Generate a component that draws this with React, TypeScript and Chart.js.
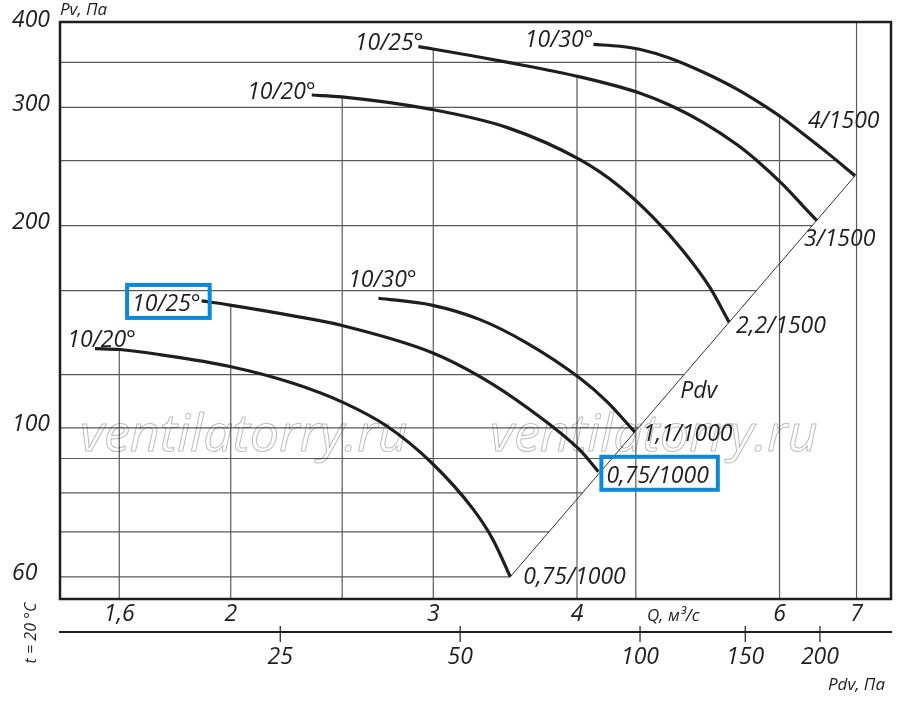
import { useEffect, useRef } from "react"
import { Chart, registerables } from "chart.js"

Chart.register(...registerables)

// Q, m3/s and Pv, Pa (lower group = 1000 rpm, upper = 1500 rpm)
const q20Low = [1.524, 1.601, 1.736, 1.997, 2.266, 2.504, 2.733, 2.99, 3.25, 3.38, 3.5]
const p20Low = [131.2, 130.8, 128.5, 123.4, 116.5, 109.1, 100.6, 88.7, 75.6, 68.2, 60]
const q25Low = [1.887, 1.997, 2.266, 2.504, 2.99, 3.294, 3.619, 4.024, 4.175]
const p25Low = [154.5, 152.3, 146.8, 141.9, 129.5, 119.2, 107.2, 92.6, 86]
const q30Low = [2.688, 2.99, 3.294, 3.619, 4.024, 4.245, 4.49]
const p30Low = [155.9, 152.3, 144.9, 133.7, 118.5, 109.5, 98.6]
const q20High = [2.352, 2.497, 2.99, 3.475, 4.024, 4.36, 4.661, 4.949, 5.222, 5.424]
const p20High = [313, 311, 297.9, 280.1, 250.7, 228.4, 205.6, 183.2, 161.6, 143.6]
const q25High = [2.912, 2.99, 3.475, 4.024, 4.533, 4.819, 5.152, 5.509, 5.733, 6.035, 6.293, 6.466]
const p25High = [369.4, 366.8, 350.3, 333.1, 315.2, 302.2, 284.8, 264.1, 250, 230.5, 213.7, 203.5]
const q30High = [4.134, 4.36, 4.533, 4.819, 5.152, 5.509, 5.849, 6.035, 6.293, 6.595, 6.98]
const p30High = [372.2, 369.9, 366.2, 355.1, 338.4, 319.4, 300, 289.2, 273.8, 257.1, 237.3]
// dynamic pressure line through the curve ends
const qPdv = [3.5, 6.98]
const pPdv = [60, 237.3]
const pdvLabelAt = 114

const curveNames = ["10/20°", "10/25°", "10/30°", "10/20°", "10/25°", "10/30°"]
const motorLabels = ["0,75/1000", "0,75/1000", "1,1/1000", "2,2/1500", "3/1500", "4/1500"]

const gridQ = [1.6, 2, 2.5, 3, 4, 4.5, 6, 7]
const gridP = [60, 70, 80, 90, 100, 120, 160, 200, 250, 300, 350]
const qTicks = [1.6, 2, 3, 4, 6, 7]
const pTicks = [60, 100, 200, 300, 400]
const pdvTicks = [25, 50, 100, 150, 200]

// label placement (px offsets from the curve start / end, baseline)
const namePlace = [
  { align: "right", dx: 41, dy: -2, boxed: false },
  { align: "right", dx: -1, dy: 10, boxed: true },
  { align: "center", dx: 4, dy: -11, boxed: false },
  { align: "right", dx: 4, dy: 4, boxed: false },
  { align: "right", dx: 5, dy: 3, boxed: false },
  { align: "right", dx: 0, dy: 3, boxed: false },
]
const endPlace = [
  { dx: 13, dy: 7, boxed: false },
  { dx: 8, dy: 11, boxed: true },
  { dx: 8, dy: 9, boxed: false },
  { dx: 7, dy: 11, boxed: false },
  { dx: -13, dy: 25, boxed: false },
  { dx: -47, dy: -48, boxed: false },
]

const FONT = "'Open Sans', 'DejaVu Sans', sans-serif"
const INK = "#1e1e1e"
const BLUE = "#0b88d8"

const curves = [
  [q20Low, p20Low],
  [q25Low, p25Low],
  [q30Low, p30Low],
  [q20High, p20High],
  [q25High, p25High],
  [q30High, p30High],
]

type Pt = [number, number]

function pixelLines(chart: Chart): Pt[][] {
  const { x, y } = chart.scales
  return chart.data.datasets.map((ds) =>
    (ds.data as { x: number; y: number }[]).map((p) => [x.getPixelForValue(p.x), y.getPixelForValue(p.y)] as Pt)
  )
}

function italic(ctx: CanvasRenderingContext2D, size: number) {
  ctx.font = `italic ${size}px ${FONT}`
}

function drawBox(ctx: CanvasRenderingContext2D, left: number, width: number, baseline: number) {
  ctx.save()
  ctx.strokeStyle = BLUE
  ctx.lineWidth = 4
  ctx.strokeRect(left - 5, baseline - 26, width + 14, 33)
  ctx.restore()
}

const fanPlugin = {
  id: "fanChart",
  beforeDatasetsDraw(chart: Chart) {
    const { ctx, chartArea: a, scales } = chart
    const lines = pixelLines(chart)
    ctx.save()
    ctx.strokeStyle = "#5a5a5a"
    ctx.lineWidth = 1.2
    ctx.beginPath()
    // vertical lines start at the highest curve they meet
    for (const q of gridQ) {
      const px = scales.x.getPixelForValue(q)
      let top = Infinity
      for (const pts of lines) {
        for (let k = 0; k < pts.length - 1; k++) {
          const [x1, y1] = pts[k]
          const [x2, y2] = pts[k + 1]
          if (x1 !== x2 && (px - x1) * (px - x2) <= 0) {
            const yy = y1 + ((y2 - y1) * (px - x1)) / (x2 - x1)
            if (yy < top) top = yy
          }
        }
      }
      if (top === Infinity) top = a.top
      ctx.moveTo(px, top)
      ctx.lineTo(px, a.bottom)
    }
    // horizontal lines stop at the rightmost curve or the Pdv line
    for (const p of gridP) {
      const py = scales.y.getPixelForValue(p)
      let right = -Infinity
      for (const pts of lines) {
        for (let k = 0; k < pts.length - 1; k++) {
          const [x1, y1] = pts[k]
          const [x2, y2] = pts[k + 1]
          if (y1 !== y2 && (py - y1) * (py - y2) <= 0) {
            const xx = x1 + ((x2 - x1) * (py - y1)) / (y2 - y1)
            if (xx > right) right = xx
          }
        }
      }
      if (right === -Infinity) right = a.right
      ctx.moveTo(a.left, py)
      ctx.lineTo(right, py)
    }
    ctx.stroke()
    ctx.restore()
  },
  afterDatasetsDraw(chart: Chart) {
    const { ctx, chartArea: a, scales } = chart
    const lines = pixelLines(chart)
    ctx.save()

    // frame
    ctx.strokeStyle = INK
    ctx.lineWidth = 2.5
    ctx.strokeRect(a.left, a.top, a.right - a.left, a.bottom - a.top)

    // Pdv axis tick marks crossing its line
    const x2 = scales.x2
    ctx.lineWidth = 1.2
    ctx.beginPath()
    for (const v of pdvTicks) {
      const px = x2.getPixelForValue(v)
      ctx.moveTo(px, x2.top - 6)
      ctx.lineTo(px, x2.top + 10)
    }
    ctx.stroke()

    ctx.fillStyle = INK
    ctx.textBaseline = "alphabetic"
    italic(ctx, 23)
    curves.forEach((_, i) => {
      const pts = lines[i]
      const [sx, sy] = pts[0]
      const [ex, ey] = pts[pts.length - 1]
      const np = namePlace[i]
      const name = curveNames[i]
      const w = ctx.measureText(name).width
      const nx = sx + np.dx
      const left = np.align === "right" ? nx - w : np.align === "center" ? nx - w / 2 : nx
      ctx.textAlign = "left"
      ctx.fillText(name, left, sy + np.dy)
      if (np.boxed) drawBox(ctx, left, w, sy + np.dy)

      const ep = endPlace[i]
      const lab = motorLabels[i]
      const lw = ctx.measureText(lab).width
      ctx.fillText(lab, ex + ep.dx, ey + ep.dy)
      if (ep.boxed) drawBox(ctx, ex + ep.dx, lw, ey + ep.dy)
    })

    // "Pdv" beside the dynamic pressure line
    const pdv = lines[lines.length - 1]
    const ly = scales.y.getPixelForValue(pdvLabelAt)
    const [[ax, ay], [bx, by]] = pdv
    const lx = ax + ((bx - ax) * (ly - ay)) / (by - ay)
    ctx.fillText("Pdv", lx + 9, ly + 8)

    // axis titles
    italic(ctx, 17)
    ctx.textAlign = "left"
    ctx.fillText("Pv, Па", a.left, 15)
    ctx.textAlign = "center"
    ctx.fillText("Q, м³/с", scales.x.getPixelForValue(4.85), a.bottom + 22)
    ctx.textAlign = "right"
    ctx.fillText("Pdv, Па", a.right - 6, x2.top + 58)
    italic(ctx, 16)
    ctx.save()
    ctx.translate(31, a.bottom + 34)
    ctx.rotate(-Math.PI / 2)
    ctx.textAlign = "center"
    ctx.textBaseline = "middle"
    ctx.fillText("t = 20 °C", 0, 0)
    ctx.restore()

    // watermark
    italic(ctx, 52)
    ctx.textAlign = "left"
    ctx.strokeStyle = "rgba(0,0,0,0.28)"
    ctx.lineWidth = 1
    ctx.strokeText("ventilatorry.ru", a.left + 20, a.top + 429)
    ctx.strokeText("ventilatorry.ru", a.left + 430, a.top + 429)

    ctx.restore()
  },
}

const tickFont = { family: FONT, size: 23, style: "italic" as const }

export default function App() {
  const canvasRef = useRef<HTMLCanvasElement>(null)

  useEffect(() => {
    if (!canvasRef.current) return

    const datasets: any[] = curves.map(([qs, ps]) => ({
      data: qs.map((q, k) => ({ x: q, y: ps[k] })),
      showLine: true,
      borderColor: INK,
      borderWidth: 3.2,
      pointRadius: 0,
      cubicInterpolationMode: "monotone",
      fill: false,
    }))
    datasets.push({
      data: qPdv.map((q, k) => ({ x: q, y: pPdv[k] })),
      showLine: true,
      borderColor: "#333",
      borderWidth: 1,
      pointRadius: 0,
      tension: 0,
      fill: false,
    })

    const chart = new Chart(canvasRef.current, {
      type: "scatter",
      data: { datasets },
      plugins: [fanPlugin],
      options: {
        animation: false,
        responsive: true,
        maintainAspectRatio: false,
        events: [],
        layout: { padding: { top: 22, right: 9, bottom: 0, left: 12 } },
        plugins: {
          legend: { display: false },
          tooltip: { enabled: false },
        },
        scales: {
          x: {
            type: "logarithmic",
            position: "bottom",
            min: 1.421,
            max: 7.5,
            grid: { display: false, drawTicks: false },
            border: { display: false },
            afterBuildTicks: (s: any) => {
              s.ticks = qTicks.map((value) => ({ value }))
            },
            afterFit: (s: any) => {
              s.height = 33
            },
            ticks: {
              autoSkip: false,
              maxRotation: 0,
              padding: 2,
              color: INK,
              font: tickFont,
              callback: (v: any) => String(v).replace(".", ","),
            },
          },
          x2: {
            type: "logarithmic",
            position: "bottom",
            min: 10.7,
            max: 263,
            grid: { display: false, drawTicks: false },
            border: { display: true, color: INK, width: 2 },
            afterBuildTicks: (s: any) => {
              s.ticks = pdvTicks.map((value) => ({ value }))
            },
            afterFit: (s: any) => {
              s.height = 80
            },
            ticks: {
              autoSkip: false,
              maxRotation: 0,
              padding: 12,
              color: INK,
              font: tickFont,
              callback: (v: any) => String(v),
            },
          },
          y: {
            type: "logarithmic",
            min: 55.6,
            max: 402,
            grid: { display: false, drawTicks: false },
            border: { display: false },
            afterBuildTicks: (s: any) => {
              s.ticks = pTicks.map((value) => ({ value }))
            },
            afterFit: (s: any) => {
              s.width = 48
            },
            ticks: {
              autoSkip: false,
              crossAlign: "far",
              labelOffset: -3,
              color: INK,
              font: tickFont,
              callback: (v: any) => String(v),
            },
          },
        },
      },
    })

    return () => chart.destroy()
  }, [])

  return (
    <div style={{ position: "fixed", left: 0, top: 0, width: 900, height: 712, background: "#fff" }}>
      <canvas ref={canvasRef} />
    </div>
  )
}
